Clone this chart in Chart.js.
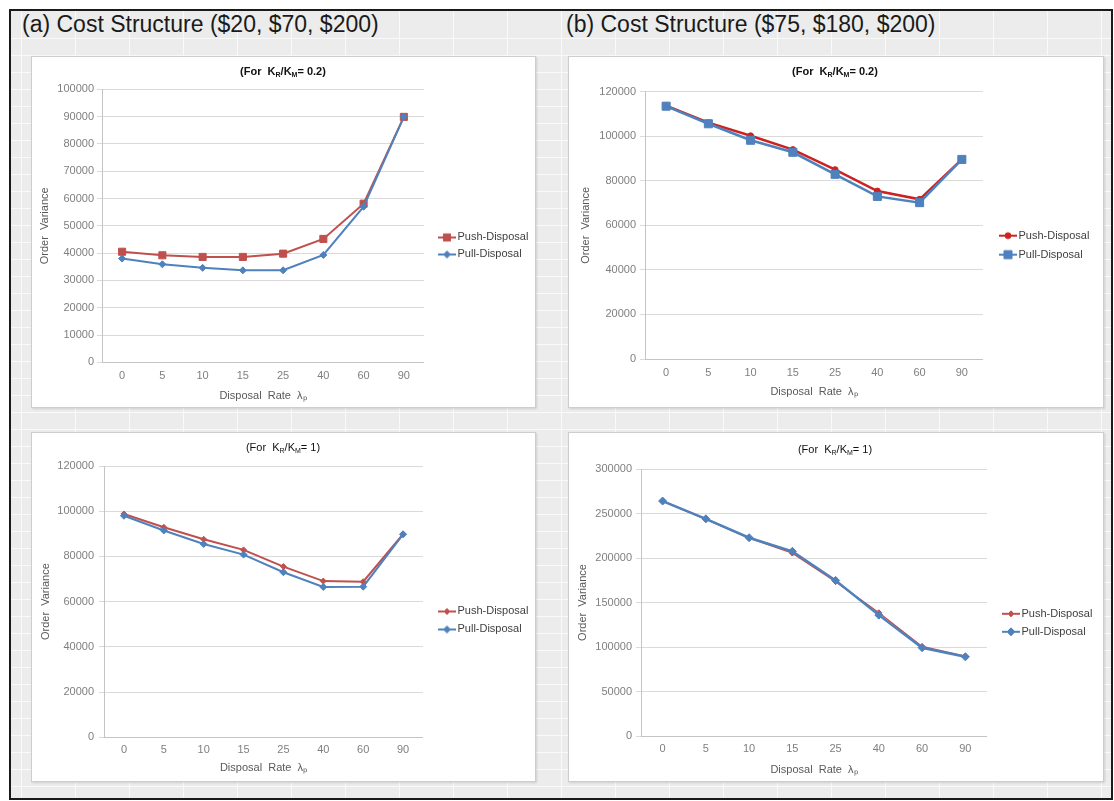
<!DOCTYPE html>
<html>
<head>
<meta charset="utf-8">
<title>Order Variance vs Disposal Rate</title>
<script src="https://cdn.jsdelivr.net/npm/chart.js@4.4.1/dist/chart.umd.min.js"></script>
<style>
  body { margin: 0; background: #fff; font-family: "Liberation Sans", Arial, sans-serif; }
  #page { position: relative; width: 1114px; height: 801px; overflow: hidden; background: #fff; }
  #frame {
    position: absolute; left: 9px; top: 9px; width: 1100px; height: 787px;
    border: 2px solid #1a1a1a; background-color: #ececec;
    background-image: linear-gradient(to right, #fafafa 1px, transparent 1px);
    background-size: 54px 100%; background-position: 10px 0;
  }
  #rows {
    position: absolute; left: 0; right: 0; top: 27px; bottom: 0;
    background-image: linear-gradient(to bottom, #fafafa 1px, transparent 1px);
    background-size: 100% 17px;
  }
  .head { position: absolute; top: 11px; font-size: 23px; line-height: 26px; color: #1a1a1a; white-space: nowrap; }
  .panel { position: absolute; box-sizing: border-box; background: #fff; border: 1px solid #cdcdcd; box-shadow: 1px 1px 2px rgba(0,0,0,0.12); }
  canvas { position: absolute; }
  .ctitle { position: absolute; width: 300px; text-align: center; font-size: 11px; line-height: 16px; color: #111; white-space: nowrap; }
  .ctitle.bold { font-weight: bold; }
  .ctitle sub { font-size: 7px; vertical-align: -2px; line-height: 0; }
</style>
</head>
<body>
<div id="page">
  <div id="frame"><div id="rows"></div></div>
  <div class="head" style="left:22px">(a) Cost Structure ($20, $70, $200)</div>
  <div class="head" style="left:566px">(b) Cost Structure ($75, $180, $200)</div>

  <div class="panel" style="left:31px;top:56px;width:505px;height:352px"></div>
  <div class="panel" style="left:568px;top:56px;width:536px;height:352px"></div>
  <div class="panel" style="left:31px;top:432px;width:505px;height:350px"></div>
  <div class="panel" style="left:568px;top:432px;width:536px;height:350px"></div>

  <!-- Canvas 10px breiter als das Panel, damit die Legende Platz hat -->
  <canvas id="chartA02" width="515" height="352" style="left:31px;top:56px"></canvas>
  <canvas id="chartB02" width="546" height="352" style="left:568px;top:56px"></canvas>
  <canvas id="chartA1" width="515" height="350" style="left:31px;top:432px"></canvas>
  <canvas id="chartB1" width="546" height="350" style="left:568px;top:432px"></canvas>

  <div class="ctitle bold" style="left:133px;top:63px">(For&nbsp; K<sub>R</sub>/K<sub>M</sub>= 0.2)</div>
  <div class="ctitle bold" style="left:685px;top:63px">(For&nbsp; K<sub>R</sub>/K<sub>M</sub>= 0.2)</div>
  <div class="ctitle" style="left:133px;top:439px">(For&nbsp; K<sub>R</sub>/K<sub>M</sub>= 1)</div>
  <div class="ctitle" style="left:685px;top:441px">(For&nbsp; K<sub>R</sub>/K<sub>M</sub>= 1)</div>
</div>

<script>
// Kategorien (Disposal Rate)
const categories = ['0', '5', '10', '15', '25', '40', '60', '90'];
const seriesNames = ['Push-Disposal', 'Pull-Disposal'];

// (a) Kosten ($20, $70, $200), K_R/K_M = 0.2
const pushA02 = [40500, 39200, 38600, 38600, 39800, 45200, 58100, 89900];
const pullA02 = [38000, 35900, 34600, 33700, 33700, 39300, 57000, 89900];
// (b) Kosten ($75, $180, $200), K_R/K_M = 0.2
const pushB02 = [113700, 106100, 100200, 94000, 85000, 75400, 71700, 89600];
const pullB02 = [113500, 105600, 98200, 92800, 82900, 73000, 70200, 89600];
// (a) K_R/K_M = 1
const pushA1 = [98800, 92900, 87600, 82900, 75500, 69100, 68800, 89900];
const pullA1 = [98000, 91500, 85500, 80800, 73000, 66500, 66600, 89800];
// (b) K_R/K_M = 1
const pushB1 = [264000, 243500, 222500, 205500, 173500, 138500, 100500, 89500];
const pullB1 = [264000, 244000, 222800, 207500, 174800, 135800, 99200, 89000];

// Y-Achsen: [max, step]
const yAxisA02 = [100000, 10000];
const yAxisB02 = [120000, 20000];
const yAxisA1 = [120000, 20000];
const yAxisB1 = [300000, 50000];

const RED = '#c0504d';
const RED_B = '#cc2222';
const BLUE = '#4f81bd';

Chart.defaults.font.family = '"Liberation Sans", Arial, sans-serif';
Chart.defaults.font.size = 11;

// Legenden-Symbol: Linie mit Marker
function legendIcon(color, style, radius) {
    const c = document.createElement('canvas');
    c.width = 30;
    c.height = 12;
    const ctx = c.getContext('2d');
    ctx.strokeStyle = color;
    ctx.lineWidth = 2;
    ctx.beginPath();
    ctx.moveTo(12, 6);
    ctx.lineTo(30, 6);
    ctx.stroke();
    ctx.fillStyle = color;
    ctx.lineWidth = 1;
    if (Chart.helpers && Chart.helpers.drawPoint) {
        Chart.helpers.drawPoint(ctx, { pointStyle: style, radius: radius, borderWidth: 1 }, 21, 6);
    } else {
        ctx.fillRect(21 - radius * 0.7, 6 - radius * 0.7, radius * 1.4, radius * 1.4);
    }
    return c;
}

function series(label, data, color, style, radius, width, order) {
    return {
        label: label,
        data: data,
        borderColor: color,
        backgroundColor: color,
        borderWidth: width,
        pointStyle: style,
        pointRadius: radius,
        pointBorderWidth: 1,
        pointBackgroundColor: color,
        pointBorderColor: color,
        tension: 0,
        order: order,
        icon: legendIcon(color, style, radius)
    };
}

// Chart erzeugen
function makeChart(id, datasets, yAxis, L) {
    return new Chart(document.getElementById(id), {
        type: 'line',
        data: { labels: categories, datasets: datasets },
        options: {
            responsive: false,
            animation: false,
            devicePixelRatio: 1,
            layout: { padding: { left: 0, top: L.top, right: L.padRight, bottom: L.padBottom } },
            plugins: {
                tooltip: { enabled: false },
                legend: {
                    position: 'right',
                    align: 'center',
                    labels: {
                        usePointStyle: true,
                        pointStyleWidth: 22,
                        padding: L.legPad,
                        color: '#404040',
                        font: { size: 11 },
                        generateLabels: (chart) => chart.data.datasets.map((ds, i) => ({
                            text: ds.label,
                            pointStyle: ds.icon,
                            fontColor: '#404040',
                            datasetIndex: i,
                            hidden: false,
                            lineWidth: 0
                        }))
                    }
                }
            },
            scales: {
                x: {
                    offset: true,
                    grid: { display: false, drawTicks: false },
                    border: { display: true, color: '#c4c4c4', width: 1 },
                    ticks: { color: '#7f7f7f', padding: L.xPad, font: { size: 11 } },
                    title: {
                        display: true,
                        text: 'Disposal  Rate  λₚ',
                        color: '#595959',
                        font: { size: 11 },
                        padding: { top: 0, bottom: 0 }
                    },
                    afterFit: (axis) => { axis.height = L.xH; }
                },
                y: {
                    min: 0,
                    max: yAxis[0],
                    grid: { color: '#dadada', tickLength: 5, drawTicks: true },
                    border: { display: true, color: '#c4c4c4', width: 1 },
                    ticks: {
                        stepSize: yAxis[1],
                        color: '#7f7f7f',
                        padding: L.yPad,
                        font: { size: 11 },
                        callback: (v) => String(v)
                    },
                    title: {
                        display: true,
                        text: 'Order  Variance',
                        color: '#595959',
                        font: { size: 11 },
                        padding: { top: L.yTitlePad, bottom: 0 }
                    },
                    afterFit: (axis) => { axis.width = L.yW; }
                }
            }
        }
    });
}

makeChart('chartA02', [
    series(seriesNames[0], pushA02, RED, 'rect', 5, 2, 1),
    series(seriesNames[1], pullA02, BLUE, 'rectRot', 3.5, 2, 0)
], yAxisA02, { top: 33.3, padBottom: 5.4, xH: 40.3, yW: 71, padRight: 7.6, legPad: 6, xPad: 7, yPad: 3, yTitlePad: 7.4 });

makeChart('chartB02', [
    series(seriesNames[0], pushB02, RED_B, 'circle', 3, 2.5, 1),
    series(seriesNames[1], pullB02, BLUE, 'rect', 5.7, 2.5, 0)
], yAxisB02, { top: 35.7, padBottom: 9.4, xH: 39.6, yW: 77, padRight: 14.6, legPad: 8, xPad: 7.5, yPad: 4, yTitlePad: 11.4 });

makeChart('chartA1', [
    series(seriesNames[0], pushA1, RED, 'rectRot', 3, 2, 1),
    series(seriesNames[1], pullA1, BLUE, 'rectRot', 3.5, 2, 0)
], yAxisA1, { top: 34, padBottom: 7.1, xH: 37.6, yW: 73, padRight: 7.6, legPad: 7, xPad: 6, yPad: 5, yTitlePad: 8 });

makeChart('chartB1', [
    series(seriesNames[0], pushB1, RED, 'rectRot', 3, 1.5, 1),
    series(seriesNames[1], pullB1, BLUE, 'rectRot', 4, 2.5, 0)
], yAxisB1, { top: 37, padBottom: 5.4, xH: 40.6, yW: 73, padRight: 11.6, legPad: 7, xPad: 6.5, yPad: 4, yTitlePad: 8.4 });
</script>
</body>
</html>
